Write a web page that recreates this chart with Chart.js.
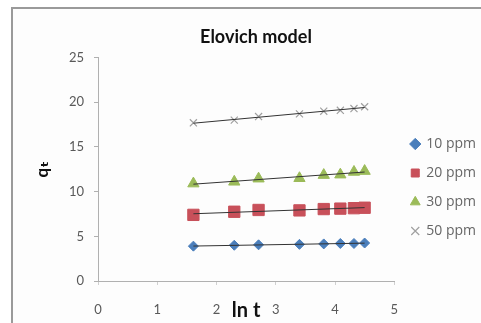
<!DOCTYPE html>
<html>
<head>
<meta charset="utf-8">
<script src="https://cdn.jsdelivr.net/npm/chart.js@4/dist/chart.umd.min.js"></script>
<style>
    html, body { margin: 0; padding: 0; background: #fff; }
    #wrap { position: relative; width: 481px; height: 323px; overflow: hidden; }
    #frame {
        position: absolute; left: 11px; top: 7px; width: 520px; height: 360px;
        border-left: 2px solid #9a9a9a; border-top: 2px solid #9a9a9a;
        background: #fdfdfd;
    }
    #chart { position: absolute; left: 0; top: 0; }
</style>
</head>
<body>
<div id="wrap">
    <div id="frame"></div>
    <canvas id="chart" width="481" height="323"></canvas>
</div>
<script>
// ln t values (t = 5 ... 90 min)
const lnT = [1.61, 2.30, 2.71, 3.40, 3.81, 4.09, 4.32, 4.50];

// q_t values per initial concentration
const q10 = [3.9, 4.0, 4.05, 4.1, 4.15, 4.2, 4.2, 4.25];
const q20 = [7.4, 7.75, 7.95, 7.9, 8.05, 8.1, 8.15, 8.2];
const q30 = [10.9, 11.1, 11.45, 11.5, 11.85, 11.9, 12.2, 12.3];
const q50 = [17.7, 18.0, 18.4, 18.7, 19.0, 19.1, 19.3, 19.5];

const seriesNames = ['10 ppm', '20 ppm', '30 ppm', '50 ppm'];
const xTicks = [0, 1, 2, 3, 4, 5];
const yTicks = [0, 5, 10, 15, 20, 25];

const toPoints = (ys) => lnT.map((x, i) => ({ x: x, y: ys[i] }));

// least squares trendline over the data range
function trend(ys) {
    const n = lnT.length;
    const mx = lnT.reduce((a, b) => a + b, 0) / n;
    const my = ys.reduce((a, b) => a + b, 0) / n;
    let sxy = 0, sxx = 0;
    lnT.forEach((x, i) => { sxy += (x - mx) * (ys[i] - my); sxx += (x - mx) * (x - mx); });
    const b = sxy / sxx, a = my - b * mx;
    const x0 = lnT[0], x1 = lnT[n - 1];
    return [{ x: x0, y: a + b * x0 }, { x: x1, y: a + b * x1 }];
}

const markers = [
    { style: 'rectRot', r: 5, color: '#4a7ebb' },
    { style: 'rect', r: 8, color: '#c8505a' },
    { style: 'triangle', r: 6.5, color: '#9bbb59' },
    { style: 'crossRot', r: 5, color: '#a0a0a0' }
];

const allSeries = [q10, q20, q30, q50];
const datasets = [];

allSeries.forEach((ys, i) => {
    datasets.push({
        label: 'trend' + i,
        data: trend(ys),
        borderColor: '#333',
        borderWidth: 1,
        pointRadius: 0,
        showLine: true,
        order: 0
    });
});

allSeries.forEach((ys, i) => {
    const m = markers[i];
    datasets.push({
        label: seriesNames[i],
        data: toPoints(ys),
        pointStyle: m.style,
        pointRadius: m.r,
        pointHoverRadius: m.r,
        backgroundColor: m.color,
        borderColor: m.color,
        pointBorderWidth: m.style === 'crossRot' ? 1.2 : 1,
        showLine: false,
        order: 1
    });
});

// nudge the legend block to where the original sits
const legendShift = {
    id: 'legendShift',
    afterLayout(chart) {
        const lg = chart.legend;
        lg.left += 2; lg.right += 2;
        lg.top += 100; lg.bottom += 100;
    }
};

const tickFont = { family: 'Lato, "Open Sans", sans-serif', size: 13 };

new Chart(document.getElementById('chart'), {
    type: 'scatter',
    data: { datasets: datasets },
    plugins: [legendShift],
    options: {
        responsive: false,
        animation: false,
        events: [],
        layout: { padding: { left: 28, top: 22, right: -3, bottom: 0 } },
        plugins: {
            title: {
                display: true,
                text: 'Elovich model',
                color: '#111',
                font: { family: 'Lato, "Open Sans", sans-serif', size: 18, weight: 'bold' },
                padding: { top: 4, bottom: 10 }
            },
            legend: {
                position: 'right',
                align: 'start',
                labels: {
                    filter: (item) => !item.text.startsWith('trend'),
                    usePointStyle: true,
                    boxWidth: 8,
                    boxHeight: 8,
                    padding: 15,
                    color: '#666',
                    font: { family: '"Open Sans", sans-serif', size: 14 }
                }
            },
            tooltip: { enabled: false }
        },
        scales: {
            x: {
                type: 'linear',
                min: 0,
                max: 5,
                afterFit: (s) => { s.height = 42; },
                afterBuildTicks: (s) => { s.ticks = xTicks.map(v => ({ value: v })); },
                border: { color: '#b0b0b0', width: 1 },
                grid: { display: true, drawOnChartArea: false, drawTicks: true, tickLength: 4, color: '#d0d0d0' },
                ticks: { color: '#595959', font: tickFont, padding: 17 },
                title: {
                    display: true,
                    text: 'ln t',
                    color: '#111',
                    font: { family: 'Lato, "Open Sans", sans-serif', size: 20, weight: 'bold' },
                    padding: { top: 0, bottom: 0 }
                }
            },
            y: {
                type: 'linear',
                min: 0,
                max: 25,
                afterFit: (s) => { s.width = 70; },
                afterBuildTicks: (s) => { s.ticks = yTicks.map(v => ({ value: v })); },
                border: { color: '#b0b0b0', width: 1 },
                grid: { display: true, drawOnChartArea: false, drawTicks: true, tickLength: 4, color: '#b0b0b0' },
                ticks: { color: '#595959', font: tickFont, padding: 10 },
                title: {
                    display: true,
                    text: 'qₜ',
                    color: '#111',
                    font: { family: 'Lato, "DejaVu Sans", sans-serif', size: 17, weight: 'bold' },
                    padding: { top: 4, bottom: 0 }
                }
            }
        }
    }
});
</script>
</body>
</html>
